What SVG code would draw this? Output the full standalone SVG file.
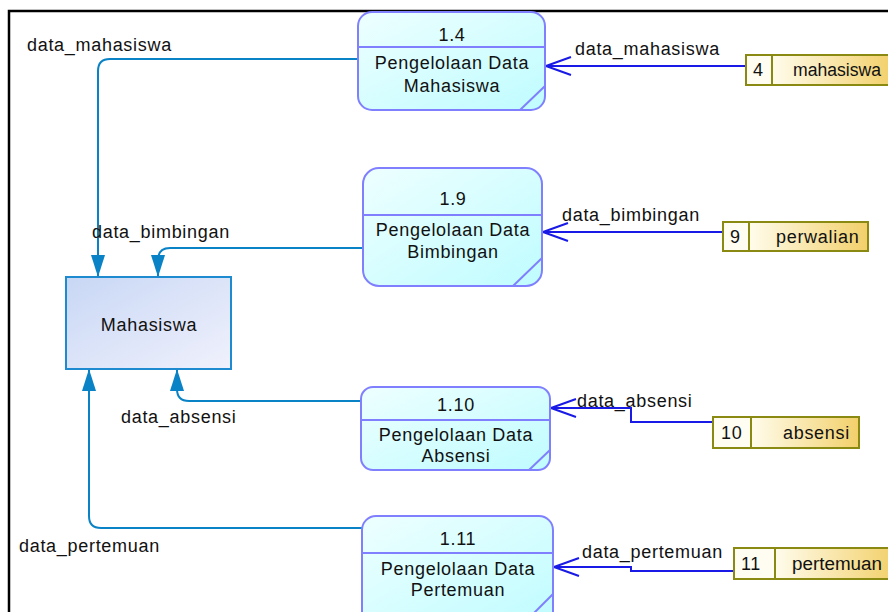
<svg xmlns="http://www.w3.org/2000/svg" width="888" height="612" viewBox="0 0 888 612">
  <defs>
    <linearGradient id="procFill" x1="0" y1="0" x2="1" y2="1">
      <stop offset="0" stop-color="#eeffff"/>
      <stop offset="1" stop-color="#bffcff"/>
    </linearGradient>
    <linearGradient id="entFill" x1="0" y1="0" x2="1" y2="1">
      <stop offset="0" stop-color="#c8d7f5"/>
      <stop offset="1" stop-color="#f0f1fc"/>
    </linearGradient>
    <linearGradient id="storeFill" x1="0" y1="0" x2="1" y2="0">
      <stop offset="0" stop-color="#fffcec"/>
      <stop offset="1" stop-color="#f2d06a"/>
    </linearGradient>
    <marker id="solidHead" viewBox="0 0 22 14" refX="22" refY="7" markerWidth="22" markerHeight="14" markerUnits="userSpaceOnUse" orient="auto">
      <path d="M0,0 L22,7 L0,14 Z" fill="#0a82c6"/>
    </marker>
    <marker id="openHead" viewBox="0 0 27 20" refX="1" refY="10" markerWidth="27" markerHeight="20" markerUnits="userSpaceOnUse" orient="auto">
      <path d="M26,1 L1,10 L26,19" fill="none" stroke="#1a1ae6" stroke-width="2"/>
    </marker>
  </defs>
  <style>
    text { font-family: "Liberation Sans", Arial, sans-serif; font-size: 18px; fill: #111; letter-spacing: 0.7px; }
    .mid { text-anchor: middle; }
    .tight { letter-spacing: 0; }
    .proc { fill: url(#procFill); stroke: #8080ff; stroke-width: 2; }
    .procLine { stroke: #8080ff; stroke-width: 2; fill: none; }
    .ent { fill: url(#entFill); stroke: #1e8ad0; stroke-width: 2; }
    .storeNum { fill: #fffdf2; stroke: #8a8a12; stroke-width: 2; }
    .storeName { fill: url(#storeFill); stroke: #8a8a12; stroke-width: 2; }
    .flowOut { fill: none; stroke: #0a82c6; stroke-width: 2; marker-end: url(#solidHead); }
    .flowIn { fill: none; stroke: #1a1ae6; stroke-width: 2; marker-start: url(#openHead); }
  </style>

  <rect width="888" height="612" fill="#ffffff"/>
  <!-- frame -->
  <path d="M9,612 V11 H888" fill="none" stroke="#000" stroke-width="2.5"/>

  <!-- connectors -->
  <g id="connectors">
    <path class="flowOut" d="M358,59 H110 Q98,59 98,71 V277"/>
    <path class="flowOut" d="M363,248 H170 Q158,248 158,260 V277"/>
    <path class="flowOut" d="M361,401 H189 Q177,401 177,389 V369"/>
    <path class="flowOut" d="M362,528 H101 Q89,528 89,516 V369"/>

    <path class="flowIn" d="M546,66 H746"/>
    <path class="flowIn" d="M543,232 H723"/>
    <path class="flowIn" d="M551,408 H631 V422 H713"/>
    <path class="flowIn" d="M554,567 H631 V571 H734"/>

    <text x="27" y="51">data_mahasiswa</text>
    <text x="92" y="238">data_bimbingan</text>
    <text x="121" y="423">data_absensi</text>
    <text x="19" y="552">data_pertemuan</text>

    <text x="575" y="55">data_mahasiswa</text>
    <text x="562" y="221">data_bimbingan</text>
    <text x="577" y="407">data_absensi</text>
    <text x="582" y="558">data_pertemuan</text>
  </g>

  <!-- external entity -->
  <g id="mahasiswa">
    <rect class="ent" x="66" y="277" width="165" height="92"/>
    <text class="mid" x="149" y="331">Mahasiswa</text>
  </g>

  <!-- processes -->
  <g id="p1_4">
    <rect class="proc" x="358" y="12" width="187" height="98" rx="14"/>
    <path class="procLine" d="M358,47 H545 M520,110 L545,86"/>
    <text class="mid" x="452" y="41">1.4</text>
    <text class="mid" x="452" y="69">Pengelolaan Data</text>
    <text class="mid" x="452" y="92">Mahasiswa</text>
  </g>
  <g id="p1_9">
    <rect class="proc" x="363" y="168" width="179" height="118" rx="16"/>
    <path class="procLine" d="M363,215 H542 M513,286 L542,258"/>
    <text class="mid" x="453" y="205">1.9</text>
    <text class="mid" x="453" y="236">Pengelolaan Data</text>
    <text class="mid" x="453" y="258">Bimbingan</text>
  </g>
  <g id="p1_10">
    <rect class="proc" x="361" y="387" width="189" height="83" rx="12"/>
    <path class="procLine" d="M361,420 H550 M529,470 L550,450"/>
    <text class="mid" x="456" y="411">1.10</text>
    <text class="mid" x="456" y="441">Pengelolaan Data</text>
    <text class="mid" x="456" y="462">Absensi</text>
  </g>
  <g id="p1_11">
    <rect class="proc" x="362" y="516" width="191" height="110" rx="14"/>
    <path class="procLine" d="M362,553 H553 M527,620 L553,594"/>
    <text class="mid" x="458" y="545">1.11</text>
    <text class="mid" x="458" y="575">Pengelolaan Data</text>
    <text class="mid" x="458" y="596">Pertemuan</text>
  </g>

  <!-- data stores -->
  <g id="ds4">
    <rect class="storeName" x="772" y="55" width="120" height="30"/>
    <rect class="storeNum" x="746" y="55" width="26" height="30"/>
    <text x="753" y="76">4</text>
    <text class="tight" x="793" y="76" textLength="88" lengthAdjust="spacingAndGlyphs">mahasiswa</text>
  </g>
  <g id="ds9">
    <rect class="storeName" x="749" y="222" width="119" height="29"/>
    <rect class="storeNum" x="723" y="222" width="26" height="29"/>
    <text x="730" y="243">9</text>
    <text x="776" y="243">perwalian</text>
  </g>
  <g id="ds10">
    <rect class="storeName" x="751" y="417" width="108" height="31"/>
    <rect class="storeNum" x="713" y="417" width="38" height="31"/>
    <text x="721" y="439">10</text>
    <text x="783" y="439">absensi</text>
  </g>
  <g id="ds11">
    <rect class="storeName" x="775" y="548" width="120" height="31"/>
    <rect class="storeNum" x="734" y="548" width="41" height="31"/>
    <text x="741" y="570">11</text>
    <text class="tight" x="792" y="570" textLength="90" lengthAdjust="spacingAndGlyphs">pertemuan</text>
  </g>
</svg>
